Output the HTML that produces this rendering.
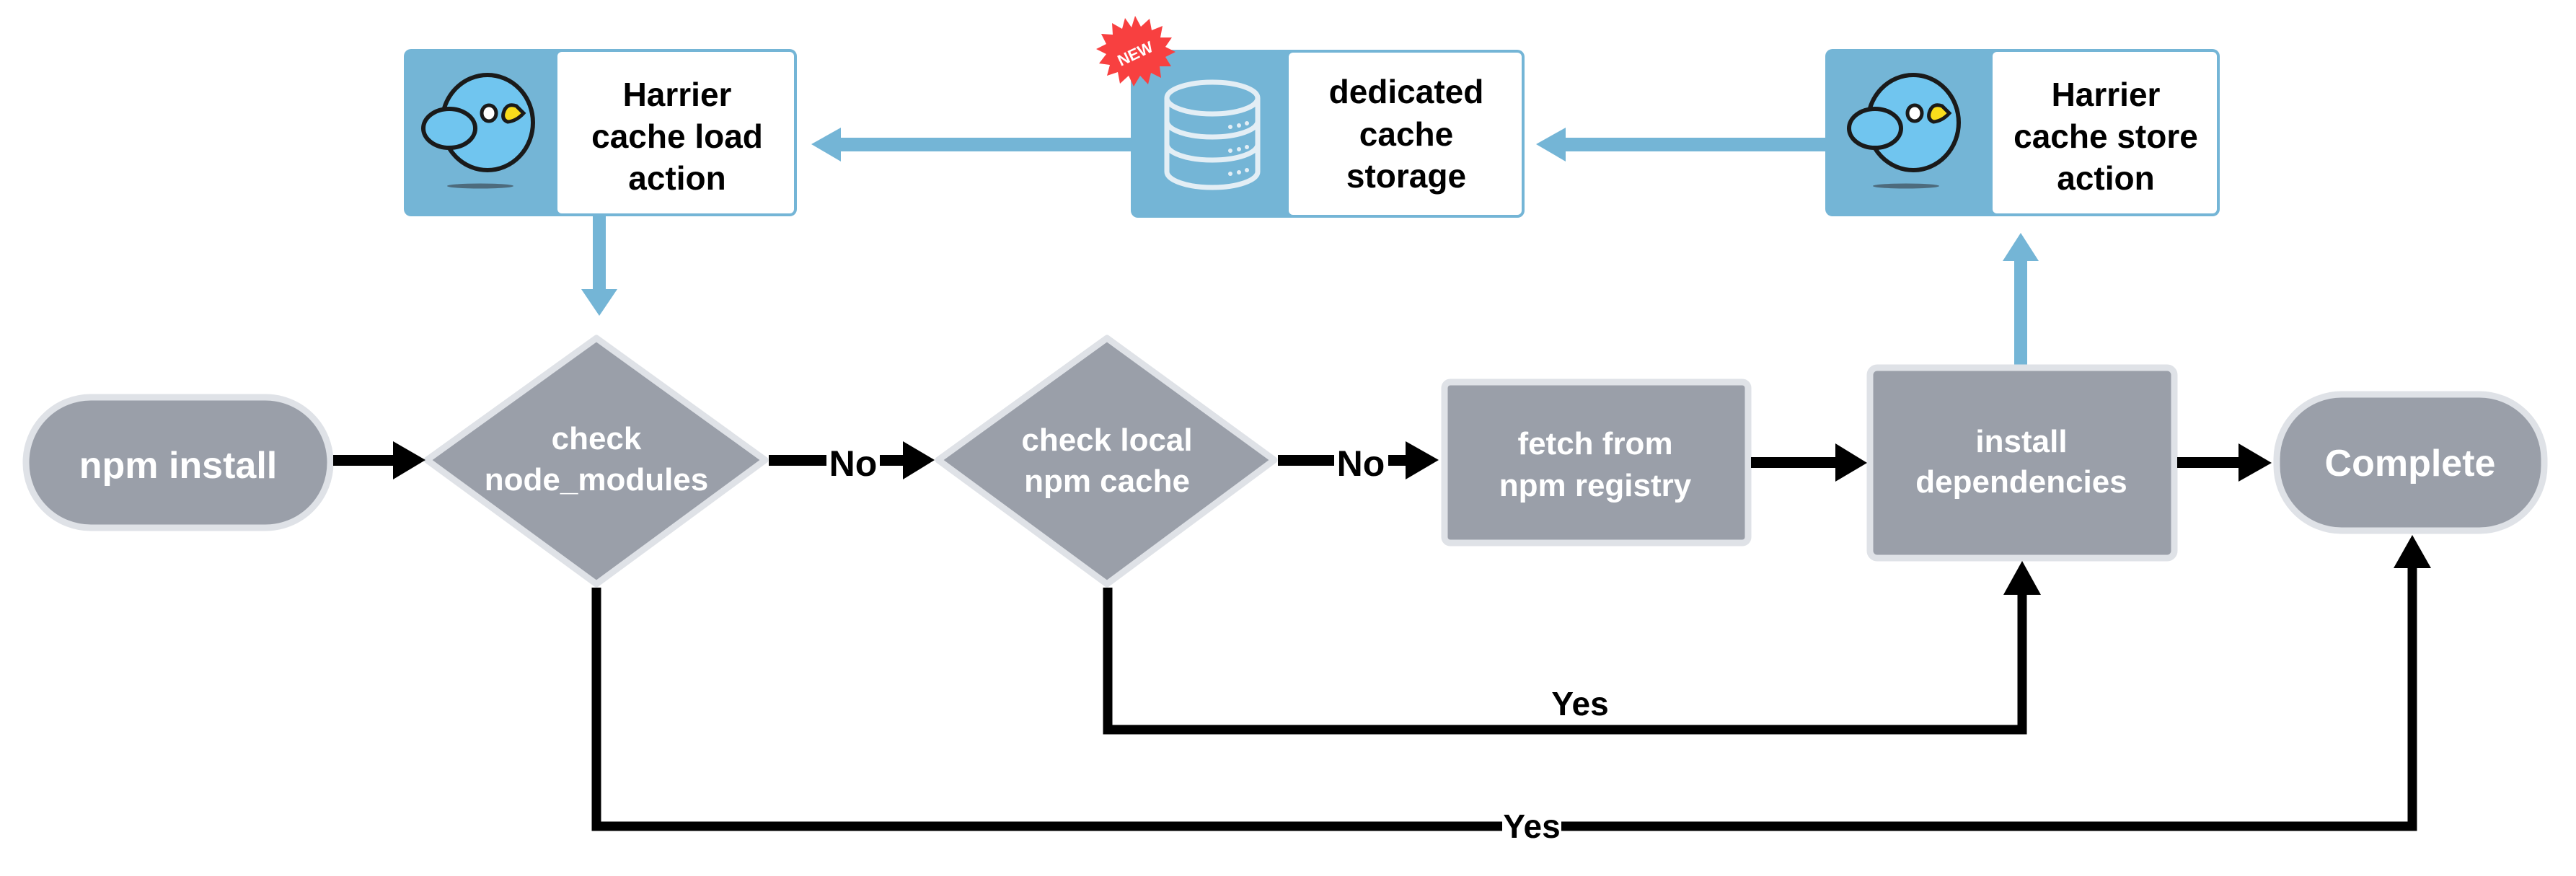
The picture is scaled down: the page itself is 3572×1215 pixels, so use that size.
<!DOCTYPE html>
<html><head><meta charset="utf-8"><style>
html,body{margin:0;padding:0;background:#fff;}
svg{display:block;}
text{font-family:"Liberation Sans",Arial,sans-serif;font-weight:bold;}
</style></head><body>
<svg width="3572" height="1215" viewBox="0 0 3572 1215" xmlns="http://www.w3.org/2000/svg">
<defs>
<g id="bird">
  <ellipse cx="0" cy="258" rx="46" ry="3.5" fill="#4d6b7d"/>
  <ellipse cx="10" cy="170" rx="63" ry="66" fill="#70c5ef" stroke="#1a1a1a" stroke-width="6"/>
  <ellipse cx="-43" cy="178" rx="36" ry="27" fill="#70c5ef" stroke="#1a1a1a" stroke-width="6"/>
  <ellipse cx="12" cy="157" rx="10" ry="11" fill="#fff" stroke="#1a1a1a" stroke-width="5"/>
  <path d="M32 157 Q36 142 50 147 L60 157 Q50 168 38 169 Q30 166 32 157Z" fill="#f9dd1c" stroke="#1a1a1a" stroke-width="5"/>
</g>
</defs>

<!-- Top blue boxes -->
<!-- Harrier load -->
<rect x="560" y="68" width="545" height="232" rx="10" fill="#74b5d6"/>
<rect x="773" y="72" width="328" height="224" rx="6" fill="#fff"/>
<use href="#bird" x="666" y="0"/>
<text x="939" y="147" font-size="46" text-anchor="middle">Harrier</text>
<text x="939" y="205" font-size="46" text-anchor="middle">cache load</text>
<text x="939" y="263" font-size="46" text-anchor="middle">action</text>

<!-- Storage -->
<rect x="1568" y="69" width="546" height="233" rx="10" fill="#74b5d6"/>
<rect x="1787" y="73" width="323" height="225" rx="6" fill="#fff"/>
<g fill="none" stroke="#e3eef5" stroke-width="7">
  <ellipse cx="1681" cy="136" rx="63" ry="22"/>
  <path d="M1618 136 V238 A63 22 0 0 0 1744 238 V136"/>
  <path d="M1618 168 A63 22 0 0 0 1744 168"/>
  <path d="M1618 200 A63 22 0 0 0 1744 200"/>
</g>
<g fill="#e3eef5">
  <circle cx="1706" cy="176" r="3"/><circle cx="1718" cy="174" r="3"/><circle cx="1729" cy="171" r="3"/>
  <circle cx="1706" cy="209" r="3"/><circle cx="1718" cy="207" r="3"/><circle cx="1729" cy="204" r="3"/>
  <circle cx="1706" cy="241" r="3"/><circle cx="1718" cy="239" r="3"/><circle cx="1729" cy="236" r="3"/>
</g>
<text x="1950" y="143" font-size="46" text-anchor="middle">dedicated</text>
<text x="1950" y="202" font-size="46" text-anchor="middle">cache</text>
<text x="1950" y="260" font-size="46" text-anchor="middle">storage</text>
<!-- NEW badge -->
<polygon fill="#f84040" points="1574,22 1582,37 1594,26 1597,42 1612,36 1609,52 1625,52 1616,65 1630,72 1616,79 1624,92 1608,92 1610,108 1596,101 1592,117 1581,105 1572,120 1565,105 1553,116 1550,100 1535,105 1539,90 1524,88 1534,75 1520,68 1534,61 1527,47 1543,48 1542,32 1556,40 1560,25 1569,38"/>
<text x="1574" y="82" font-size="22" fill="#fff" text-anchor="middle" transform="rotate(-25 1574 74)">NEW</text>

<!-- Harrier store -->
<rect x="2531" y="68" width="547" height="232" rx="10" fill="#74b5d6"/>
<rect x="2763" y="72" width="311" height="224" rx="6" fill="#fff"/>
<use href="#bird" x="2643" y="0"/>
<text x="2920" y="147" font-size="46" text-anchor="middle">Harrier</text>
<text x="2920" y="205" font-size="46" text-anchor="middle">cache store</text>
<text x="2920" y="263" font-size="46" text-anchor="middle">action</text>

<!-- Blue arrows -->
<g fill="#74b5d6">
  <rect x="1162" y="191" width="406" height="19"/>
  <polygon points="1125,200 1166,177 1166,224"/>
  <rect x="2168" y="191" width="363" height="19"/>
  <polygon points="2130,200 2171,177 2171,224"/>
  <rect x="822" y="300" width="18" height="103"/>
  <polygon points="806,401 856,401 831,438"/>
  <rect x="2793" y="360" width="18" height="146"/>
  <polygon points="2777,362 2827,362 2802,323"/>
</g>

<!-- Main flow shapes -->
<g stroke="#dfe2e7" stroke-width="9" fill="#9a9fa9">
  <rect x="36" y="551" width="422" height="181" rx="90"/>
  <polygon points="827,469 1061,638 827,810 592,638" stroke-linejoin="round"/>
  <polygon points="1535,469 1767,638 1535,810 1301,638" stroke-linejoin="round"/>
  <rect x="2003" y="530" width="421" height="223" rx="8"/>
  <rect x="2593" y="510" width="422" height="264" rx="10"/>
  <rect x="3157" y="547" width="371" height="189" rx="90"/>
</g>
<g fill="#fff" text-anchor="middle">
  <text x="247" y="663" font-size="52">npm install</text>
  <text x="827" y="623" font-size="44">check</text>
  <text x="827" y="680" font-size="44">node_modules</text>
  <text x="1535" y="625" font-size="44">check local</text>
  <text x="1535" y="682" font-size="44">npm cache</text>
  <text x="2212" y="630" font-size="44">fetch from</text>
  <text x="2212" y="688" font-size="44">npm registry</text>
  <text x="2803" y="627" font-size="44">install</text>
  <text x="2803" y="683" font-size="44">dependencies</text>
  <text x="3342" y="660" font-size="52">Complete</text>
</g>

<!-- Black connectors -->
<g fill="#000">
  <rect x="462" y="631" width="86" height="15"/>
  <polygon points="545,612 545,665 590,638"/>
  <rect x="1066" y="631" width="80" height="15"/>
  <rect x="1220" y="631" width="40" height="15"/>
  <polygon points="1252,612 1252,665 1296,638"/>
  <rect x="1772" y="631" width="78" height="15"/>
  <rect x="1925" y="631" width="30" height="15"/>
  <polygon points="1949,612 1949,665 1995,638"/>
  <rect x="2428" y="634" width="120" height="15"/>
  <polygon points="2545,615 2545,668 2589,642"/>
  <rect x="3019" y="634" width="88" height="15"/>
  <polygon points="3104,615 3104,668 3150,642"/>
</g>
<text x="1183" y="660" font-size="50" text-anchor="middle">No</text>
<text x="1887" y="660" font-size="50" text-anchor="middle">No</text>

<!-- Yes loops -->
<g fill="none" stroke="#000" stroke-width="13">
  <path d="M1536 815 V1012 H2804 V822"/>
  <path d="M827 815 V1146 H3345 V785"/>
</g>
<polygon points="2778,825 2830,825 2804,778" fill="#000"/>
<polygon points="3319,788 3371,788 3345,742" fill="#000"/>
<text x="2191" y="992" font-size="46" text-anchor="middle">Yes</text>
<rect x="2083" y="1136" width="82" height="22" fill="#fff"/>
<text x="2124" y="1162" font-size="46" text-anchor="middle">Yes</text>
</svg>
</body></html>
